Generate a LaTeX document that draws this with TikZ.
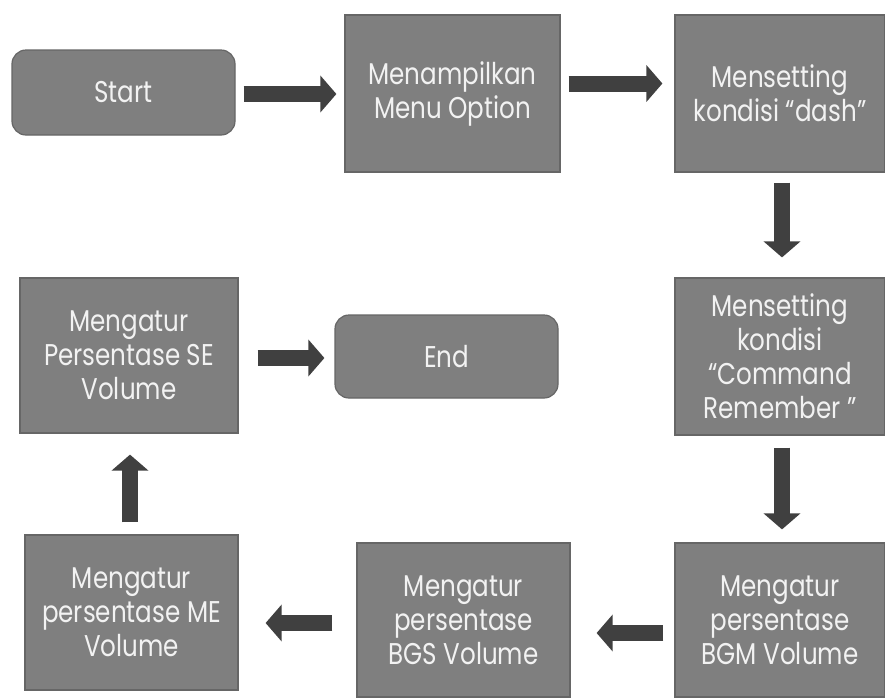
\documentclass[tikz,border=0pt]{standalone}
\usepackage{fontspec}
\setmainfont[FakeStretch=0.82]{Poppins}
\usetikzlibrary{arrows.meta}
\definecolor{boxgray}{HTML}{7F7F7F}
\definecolor{boxedge}{HTML}{666666}
\definecolor{arrowgray}{HTML}{404040}
\definecolor{textgray}{HTML}{F2F2F2}

\begin{document}
\begin{tikzpicture}[x=1pt, y=-1pt,
    box/.style={draw=boxedge, fill=boxgray, line width=1.2pt, text=textgray,
      align=center, inner sep=0pt, font=\fontsize{30}{34}\selectfont},
    roundbox/.style={box, rounded corners=14pt},
    flow/.style={draw=arrowgray, line width=16pt, -{Triangle[width=36pt, length=16pt]}}
]
  \useasboundingbox (0,0) rectangle (885,697);

  % Top row
  \node[roundbox, minimum width=223pt, minimum height=85pt] (start) at (123.5,92.5) {Start};
  \node[box, minimum width=215pt, minimum height=157pt] (menu) at (452.5,93.5) {Menampilkan\\Menu Option};
  \node[box, minimum width=210pt, minimum height=157pt] (dash) at (780,93.5) {Mensetting\\kondisi “dash”};

  % Middle row
  \node[box, minimum width=218pt, minimum height=155pt] (se) at (129,355.5) {Mengatur\\Persentase SE\\Volume};
  \node[roundbox, minimum width=223pt, minimum height=83pt] (end) at (446.5,356.5) {End};
  \node[box, minimum width=210pt, minimum height=157pt] (cmd) at (780,356.5) {Mensetting\\kondisi\\“Command\\Remember ”};

  % Bottom row
  \node[box, minimum width=213pt, minimum height=155pt] (me) at (131.5,612.5) {Mengatur\\persentase ME\\Volume};
  \node[box, minimum width=213pt, minimum height=154pt] (bgs) at (463.5,620) {Mengatur\\persentase\\BGS Volume};
  \node[box, minimum width=210pt, minimum height=154pt] (bgm) at (780,620) {Mengatur\\persentase\\BGM Volume};

  % Arrows
  \draw[flow, shorten <=8pt, shorten >=8pt] ([yshift=-1.5pt]start.east) -- ([yshift=-1.5pt]start.east -| menu.west);
  \draw[flow, shorten <=8pt, shorten >=12pt] ([yshift=10pt]menu.east) -- ([yshift=10pt]menu.east -| dash.west);
  \draw[flow, shorten <=10pt, shorten >=20pt] ([xshift=2pt]dash.south) -- ([xshift=2pt]dash.south |- cmd.north);
  \draw[flow, shorten <=12pt, shorten >=13pt] ([xshift=2pt]cmd.south) -- ([xshift=2pt]cmd.south |- bgm.north);
  \draw[flow, shorten <=11pt, shorten >=26pt] ([yshift=-13pt]bgm.west) -- ([yshift=-13pt]bgm.west -| bgs.east);
  \draw[flow, shorten <=24pt, shorten >=27pt] ([yshift=-3pt]bgs.west) -- ([yshift=-3pt]bgs.west -| me.east);
  \draw[flow, shorten <=12pt, shorten >=21pt] ([xshift=-1.5pt]me.north) -- ([xshift=-1.5pt]me.north |- se.south);
  \draw[flow, shorten <=19pt, shorten >=10pt] ([yshift=-2.5pt]se.east) -- ([yshift=-2.5pt]se.east -| end.west);
\end{tikzpicture}
\end{document}
